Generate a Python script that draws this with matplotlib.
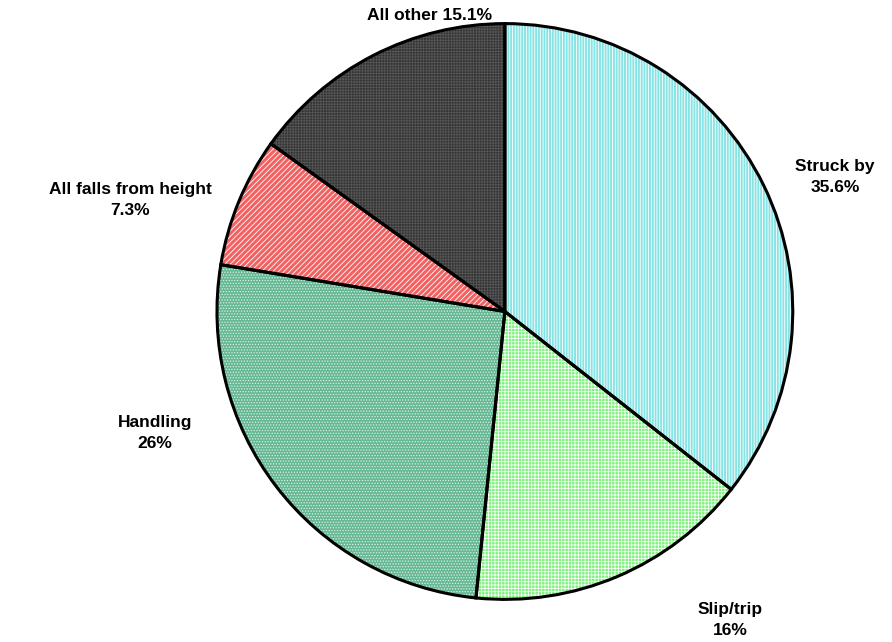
import matplotlib
matplotlib.use("Agg")
from matplotlib import pyplot as plt

# data (clockwise from 12 o'clock)
labels = ["Struck by", "Slip/trip", "Handling", "All falls from height", "All other"]
values = [35.6, 16, 26, 7.3, 15.1]
pct_text = ["35.6%", "16%", "26%", "7.3%", "15.1%"]

fill_colors = ["#88E4E4", "#7CF27C", "#66B894", "#F26262", "#333333"]
hatch_colors = ["#FFFFFF", "#FFFFFF", "#D8F0E4", "#FFFFFF", "#555555"]
hatches = ["||||||", "+++++", "......", "//////", "++++++"]

plt.rcParams["font.family"] = ["Liberation Sans", "DejaVu Sans"]
plt.rcParams["hatch.linewidth"] = 0.6

fig = plt.figure(figsize=(8.92, 6.42), dpi=100)
ax = fig.add_axes([0, 0, 1, 1])

common = dict(startangle=90, counterclock=False, radius=1.0)

# base fill
ax.pie(values, colors=fill_colors, wedgeprops=dict(linewidth=0), **common)

# hatch overlay, one colour per wedge
wedges, _ = ax.pie(values, colors=["none"] * len(values), **common)
for w, h, hc in zip(wedges, hatches, hatch_colors):
    w.set_hatch(h)
    w.set_edgecolor(hc)
    w.set_linewidth(0)

# black outlines on top
ax.pie(values, colors=["none"] * len(values),
       wedgeprops=dict(edgecolor="black", linewidth=2.2), **common)

ax.set_xlim(-1.753, 1.344)
ax.set_ylim(-1.148, 1.082)
ax.set_aspect("equal")
ax.axis("off")

# label positions in figure pixels (x, y from top)
label_pos = [(835, 177), (730, 620), (155, 433), (130, 200), (430, 16)]
for i, (lab, pct) in enumerate(zip(labels, pct_text)):
    x, y = label_pos[i]
    if lab == "All other":
        txt = f"{lab} {pct}"
    else:
        txt = f"{lab}\n{pct}"
    fig.text(x / 892, 1 - y / 642, txt, ha="center", va="center",
             fontsize=12.5, fontweight="bold", linespacing=1.45)

fig.savefig("out.png", dpi=100)
